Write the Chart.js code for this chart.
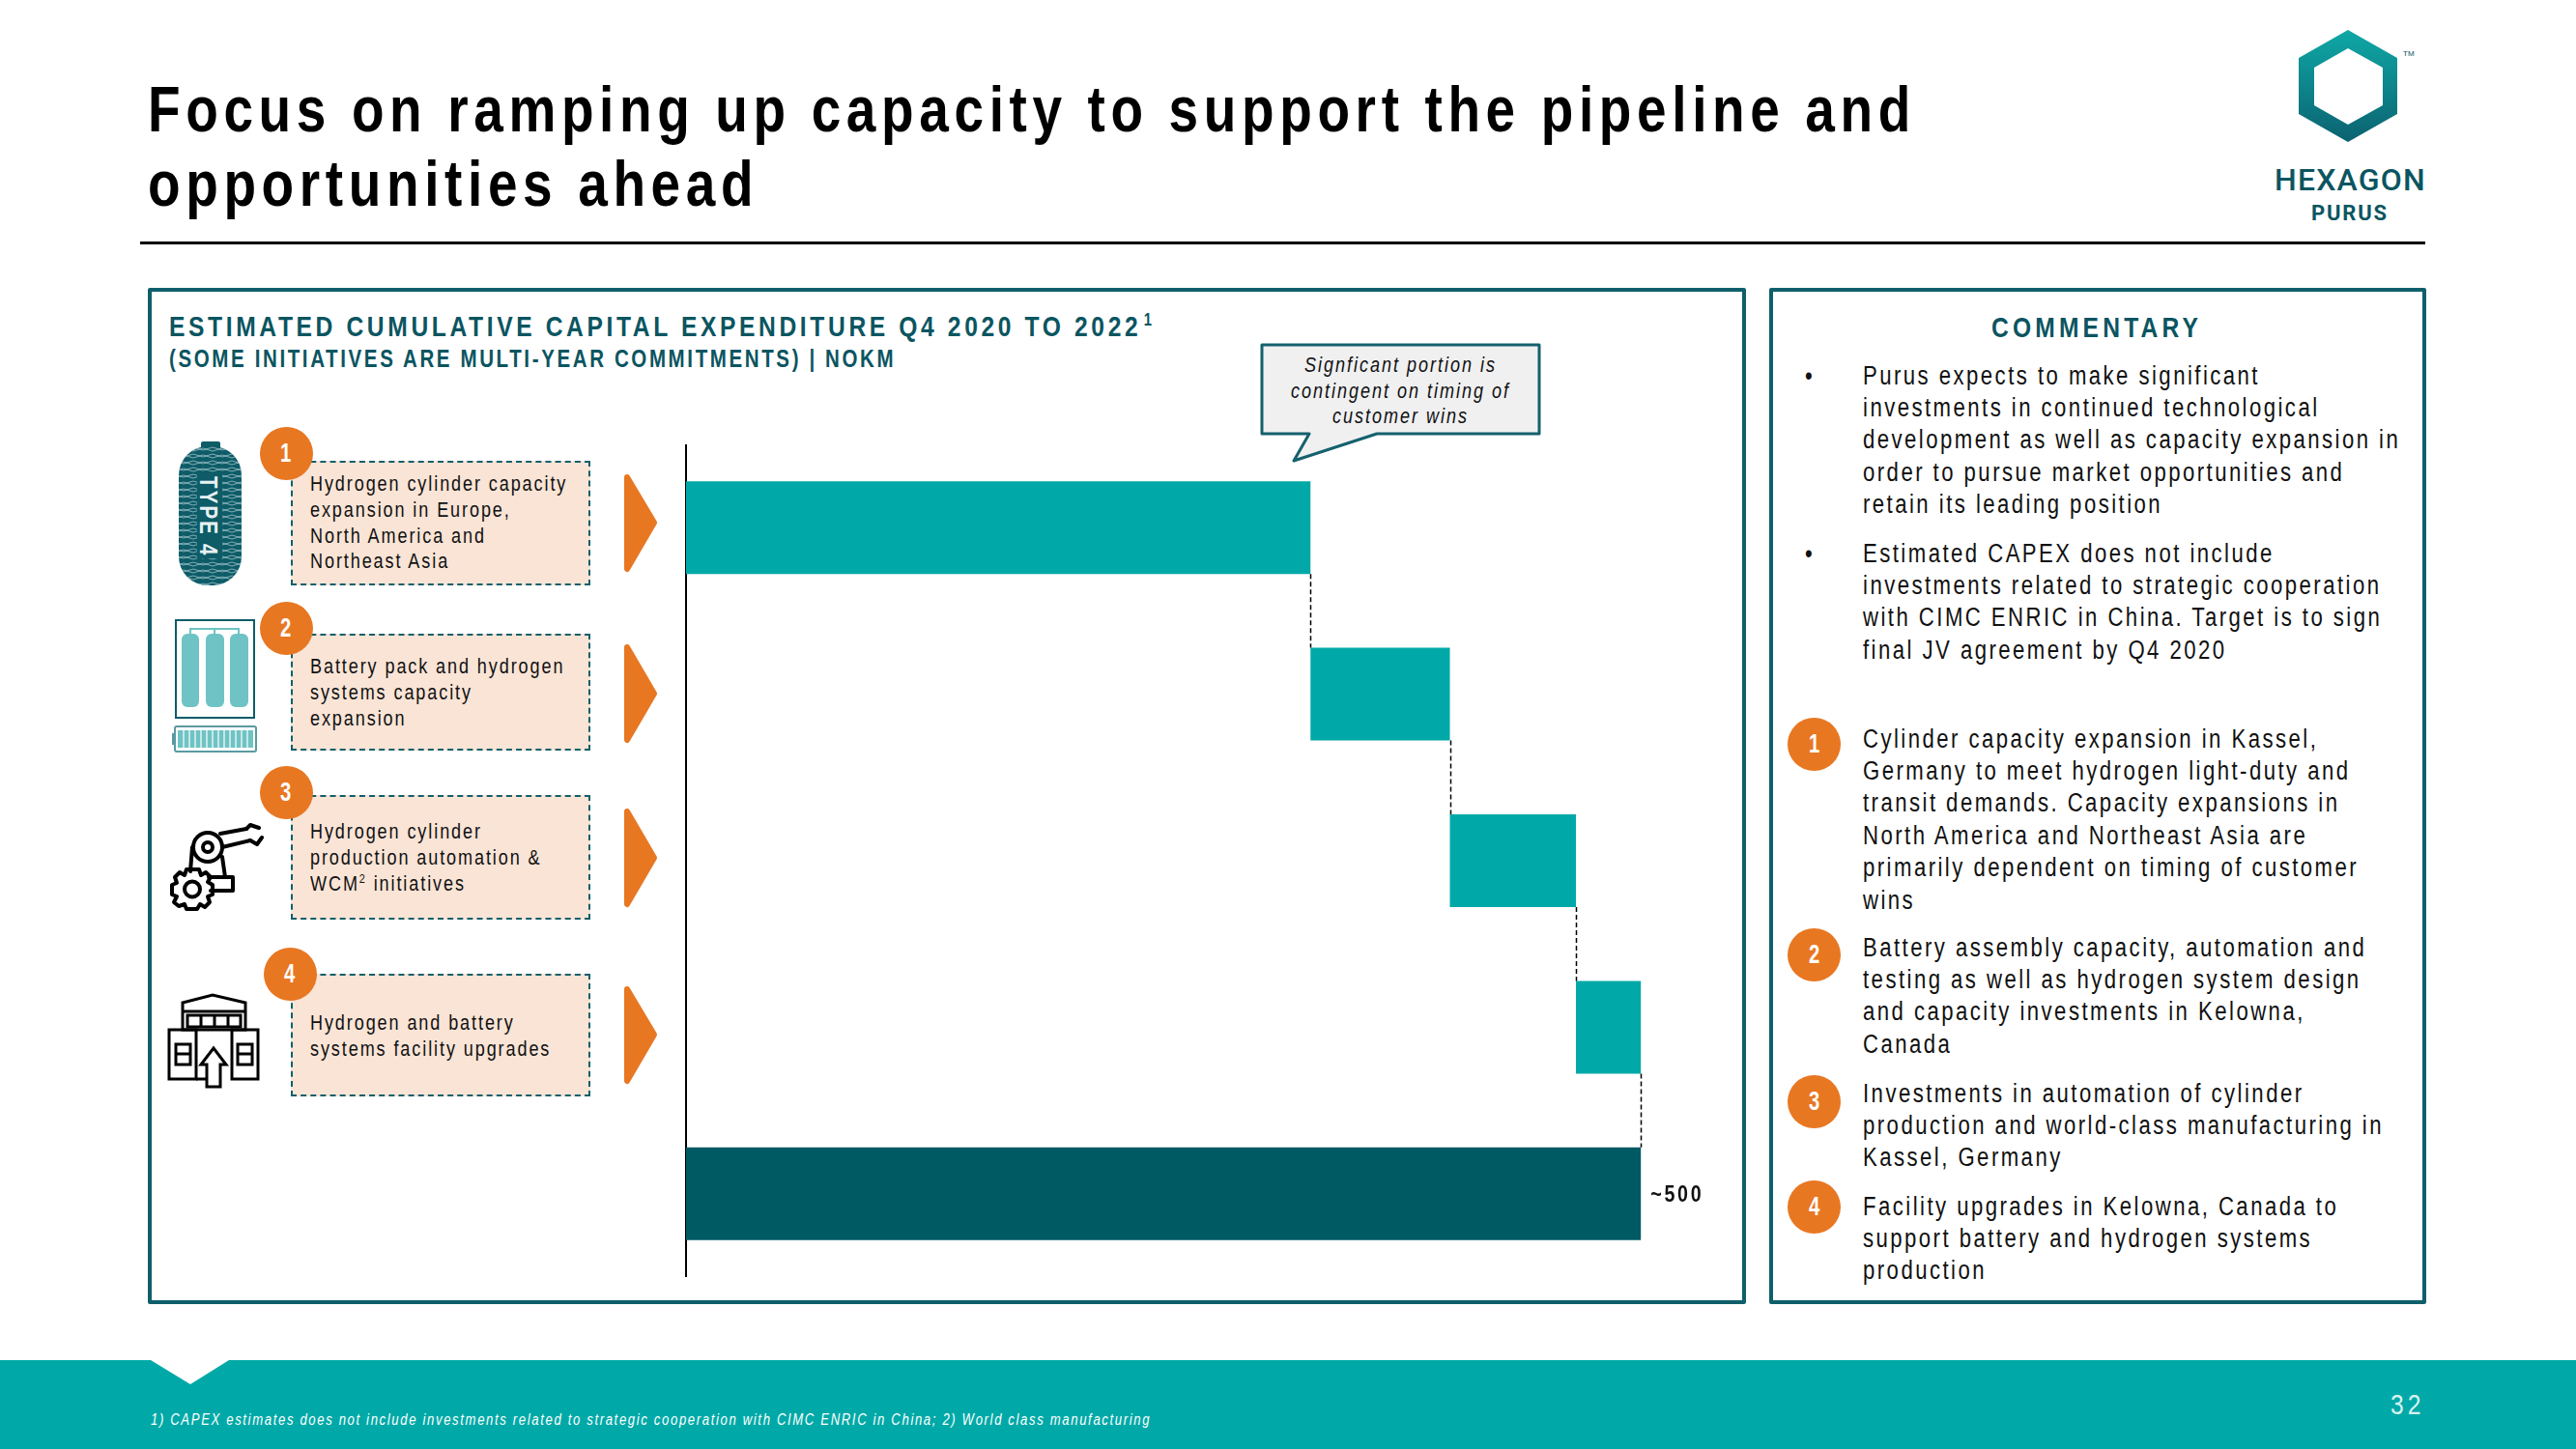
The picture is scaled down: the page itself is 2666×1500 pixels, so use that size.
<!DOCTYPE html>
<html>
<head>
<meta charset="utf-8">
<title>Capex</title>
<script src="https://cdn.jsdelivr.net/npm/chart.js@4"></script>
<style>
  html, body { margin: 0; padding: 0; background: #fff; }
  #page { position: relative; width: 2666px; height: 1500px; overflow: hidden; font-family: "Liberation Sans", sans-serif; }
  .abs { position: absolute; box-sizing: border-box; }
  /* no narrow font installed, so the regular one is squeezed */
  .t { position: absolute; white-space: nowrap; line-height: 1; color: #111; transform: scaleX(0.82); transform-origin: left top; }
  .t sup { line-height: 0; font-size: 0.6em; }
  .title { font-size: 67px; font-weight: 700; letter-spacing: 6.88px; color: #000; }
  .head { font-size: 30px; font-weight: 700; letter-spacing: 4.43px; color: #0b5561; }
  .comhead { font-size: 30px; font-weight: 700; letter-spacing: 5.1px; color: #0b5561; }
  .sub { font-size: 25px; font-weight: 700; letter-spacing: 3.2px; color: #0b5561; }
  .box-t { font-size: 22px; letter-spacing: 2.33px; }
  .com { font-size: 27px; letter-spacing: 3px; }
  .call { font-size: 22px; font-style: italic; letter-spacing: 2.4px; text-align: center; width: 287px; transform-origin: center top; }
  .foot { font-size: 16px; font-style: italic; letter-spacing: 2px; color: #fff; }
  .pg { font-size: 30px; letter-spacing: 5px; color: #d9f2f1; }
  .panel { border: 4px solid #0f5f6b; border-radius: 2px; }
  .box { background: #f9e4d6; border: 2px dashed #0f5f6b; }
  .dot { position: absolute; border-radius: 50%; background: #e87722; color: #fff; font-weight: 700; text-align: center; }
  .dot span { display: inline-block; transform: scaleX(0.75); }
  svg { position: absolute; left: 0; top: 0; }
  canvas { position: absolute; left: 700px; top: 460px; }
</style>
</head>
<body>
<div id="page">
  <div class="abs" style="left:145px;top:250px;width:2365px;height:3px;background:#000"></div>
  <div class="abs panel" style="left:153px;top:298px;width:1654px;height:1052px"></div>
  <div class="abs panel" style="left:1831px;top:298px;width:680px;height:1052px"></div>
  <div class="abs" style="left:0;top:1408px;width:2666px;height:92px;background:#00a9a7"></div>

  <svg width="2666" height="1500" viewBox="0 0 2666 1500">
    <defs>
      <linearGradient id="hexGrad" x1="0" y1="0" x2="0" y2="1">
        <stop offset="0" stop-color="#0fa8a6"/>
        <stop offset="1" stop-color="#0b6270"/>
      </linearGradient>
      <pattern id="wrap" width="20" height="7" patternUnits="userSpaceOnUse">
        <path d="M0 1 L10 4 L20 1 M0 5 L10 2 L20 5" fill="none" stroke="#cfe3e5" stroke-width="0.6"/>
      </pattern>
    </defs>

    <!-- logo -->
    <path fill="url(#hexGrad)" fill-rule="evenodd" d="M2430 31 L2481 60 L2481 118 L2430 147 L2379 118 L2379 60 Z M2430 50 L2395 70 L2395 109 L2430 129 L2466 109 L2466 70 Z"/>
    <text x="2487" y="58" font-family="Liberation Sans" font-size="8" fill="#0b5561">TM</text>
    <text x="2354" y="197" font-family="Roboto" font-weight="500" font-size="32" letter-spacing="1.2" fill="#0b5561">HEXAGON</text>
    <text x="2392" y="228" font-family="Roboto" font-weight="700" font-size="22" letter-spacing="1.8" fill="#0b5561">PURUS</text>

    <!-- callout -->
    <path d="M1306 357 H1593 V449 H1425 L1339 477 L1355 449 H1306 Z" fill="#f0f0f1" stroke="#15616d" stroke-width="3" stroke-linejoin="round"/>

    <!-- footer notch -->
    <path d="M156 1408 H237 L197 1433 Z" fill="#fff"/>

    <!-- arrows -->
    <g fill="#e87722" stroke="#e87722" stroke-width="6" stroke-linejoin="round">
      <path d="M649 494 L677 541 L649 589 Z"/>
      <path d="M649 670 L677 718 L649 766 Z"/>
      <path d="M649 840 L677 888 L649 936 Z"/>
      <path d="M649 1024 L677 1071 L649 1119 Z"/>
    </g>

    <!-- tank -->
    <rect x="208" y="457" width="20" height="10" rx="2" fill="#0d5c68"/>
    <rect x="185" y="462" width="65" height="144" rx="30" fill="#0d5c68"/>
    <rect x="185" y="462" width="65" height="144" rx="30" fill="url(#wrap)"/>
    <rect x="204" y="490" width="26" height="88" fill="#0d5c68"/>
    <text transform="translate(207 493) rotate(90) scale(0.82 1)" font-family="Liberation Sans" font-weight="700" font-size="25" letter-spacing="2.6" fill="#e8f1f2">TYPE 4</text>

    <!-- battery pack icon -->
    <rect x="182" y="642" width="81" height="101" fill="#fff" stroke="#0d5c68" stroke-width="2"/>
    <path d="M197 656 V651 H247 V656 M222 651 V656" fill="none" stroke="#6fc3c4" stroke-width="2"/>
    <g fill="#6fc3c4">
      <rect x="188" y="656" width="18" height="76" rx="6"/>
      <rect x="213" y="656" width="19" height="76" rx="6"/>
      <rect x="238" y="656" width="19" height="76" rx="6"/>
    </g>
    <rect x="181" y="752" width="84" height="26" rx="2" fill="#fff" stroke="#5a9aa2" stroke-width="2"/>
    <rect x="178" y="759" width="3" height="12" fill="#5a9aa2"/>
    <rect x="184" y="756" width="78" height="18" fill="#6fc3c4"/>
    <path d="M190 756 V774 M196 756 V774 M202 756 V774 M208 756 V774 M214 756 V774 M220 756 V774 M226 756 V774 M232 756 V774 M238 756 V774 M244 756 V774 M250 756 V774 M256 756 V774" stroke="#fff" stroke-width="1.2"/>

    <!-- robot arm icon -->
    <g fill="none" stroke="#000" stroke-width="4" stroke-linejoin="round" stroke-linecap="round">
      <circle cx="215" cy="877" r="15"/>
      <circle cx="215" cy="877" r="5"/>
      <path d="M199 877 L197 902 M230 887 L233 908 M216 908 H241 V922 H218"/>
      <path d="M228 863 L255 858 M230 877 L259 870"/>
      <path d="M255 858 L259 854 L268 857 M259 870 L266 874 L271 867"/>
      <path d="M200 900 L206 900 L208 906 L213 903 L218 908 L215 913 L220 916 L220 926 L215 928 L217 934 L212 939 L207 936 L204 941 L193 941 L191 936 L185 938 L180 934 L183 928 L178 926 L178 916 L183 914 L181 908 L186 903 L191 906 L193 900 Z"/>
      <circle cx="199" cy="920.5" r="8"/>
    </g>

    <!-- building icon -->
    <g fill="none" stroke="#000" stroke-width="3" stroke-linejoin="miter">
      <path d="M189 1038 L220 1030 L254 1038 V1066 H189 Z M189 1047 H254"/>
      <path d="M194 1051 H249 V1063 H194 Z M208 1051 V1063 M222 1051 V1063 M236 1051 V1063"/>
      <path d="M175 1066 H203 V1117 H175 Z M240 1066 H267 V1117 H240 Z"/>
      <path d="M203 1117 H214 V1125 H228 V1102 H234 L221 1085 L208 1102 H214 V1125"/>
      <path d="M182 1081 H197 V1102 H182 Z M182 1091 H197 M246 1081 H261 V1102 H246 Z M246 1091 H261"/>
    </g>
  </svg>

  <canvas id="capexChart" width="1097" height="862"></canvas>
</div>

<script>
// chart data, NOK million
const categories = ['Hydrogen cylinder capacity', 'Battery and hydrogen systems', 'Production automation', 'Facility upgrades', 'Total'];
const barStart = [0, 327, 400, 466, 0];
const barEnd = [327, 400, 466, 500, 500];
const barColors = ['#00a9a7', '#00a9a7', '#00a9a7', '#00a9a7', '#005a64'];
const totalLabel = '~500';

const titleLines = ['Focus on ramping up capacity to support the pipeline and', 'opportunities ahead'];
const chartHeading = 'ESTIMATED CUMULATIVE CAPITAL EXPENDITURE Q4 2020 TO 2022';
const chartSubheading = '(SOME INITIATIVES ARE MULTI-YEAR COMMITMENTS) | NOKM';
const calloutLines = ['Signficant portion is', 'contingent on timing of', 'customer wins'];
const footnote = '1) CAPEX estimates does not include investments related to strategic cooperation with CIMC ENRIC in China; 2) World class manufacturing';
const pageNumber = '32';

const initiativeLines = [
  ['Hydrogen cylinder capacity', 'expansion in Europe,', 'North America and', 'Northeast Asia'],
  ['Battery pack and hydrogen', 'systems capacity', 'expansion'],
  ['Hydrogen cylinder', 'production automation &amp;', 'WCM<sup>2</sup> initiatives'],
  ['Hydrogen and battery', 'systems facility upgrades']
];
const bulletLines = [
  ['Purus expects to make significant', 'investments in continued technological', 'development as well as capacity expansion in', 'order to pursue market opportunities and', 'retain its leading position'],
  ['Estimated CAPEX does not include', 'investments related to strategic cooperation', 'with CIMC ENRIC in China. Target is to sign', 'final JV agreement by Q4 2020']
];
const commentLines = [
  ['Cylinder capacity expansion in Kassel,', 'Germany to meet hydrogen light-duty and', 'transit demands. Capacity expansions in', 'North America and Northeast Asia are', 'primarily dependent on timing of customer', 'wins'],
  ['Battery assembly capacity, automation and', 'testing as well as hydrogen system design', 'and capacity investments in Kelowna,', 'Canada'],
  ['Investments in automation of cylinder', 'production and world-class manufacturing in', 'Kassel, Germany'],
  ['Facility upgrades in Kelowna, Canada to', 'support battery and hydrogen systems', 'production']
];

const page = document.getElementById('page');

// text helper: y is the baseline, Liberation sits at .8465em with line-height 1
function addText(str, x, y, size, cls) {
  const el = document.createElement('div');
  el.className = 't ' + cls;
  el.style.left = x + 'px';
  el.style.top = (y - size * 0.8465) + 'px';
  el.innerHTML = str;
  page.appendChild(el);
  return el;
}

function addLines(lines, x, y, pitch, size, cls) {
  lines.forEach((line, i) => addText(line, x, y + i * pitch, size, cls));
}

function addDot(label, cx, cy, r, size) {
  const el = document.createElement('div');
  el.className = 'dot';
  el.style.cssText = `left:${cx - r}px;top:${cy - r}px;width:${2 * r}px;height:${2 * r}px;line-height:${2 * r}px;font-size:${size}px`;
  el.innerHTML = '<span>' + label + '</span>';
  page.appendChild(el);
}

function addBox(x, top, w, h) {
  const el = document.createElement('div');
  el.className = 'abs box';
  el.style.cssText = `left:${x}px;top:${top}px;width:${w}px;height:${h}px`;
  page.appendChild(el);
}

addLines(titleLines, 153, 136, 77, 67, 'title');
addText(chartHeading + '<sup style="margin-left:3px">1</sup>', 175, 348, 30, 'head');
addText(chartSubheading, 175, 380, 25, 'sub');
addLines(calloutLines, 1306, 386, 26.5, 22, 'call');
addText(footnote, 156, 1476, 16, 'foot');
addText(pageNumber, 2474, 1464, 30, 'pg');

// left boxes with their number badges
const boxTops = [477, 656, 823, 1008];
const boxHeights = [129, 121, 129, 127];
const boxBaselines = [509, 698, 869, 1067];
const badgeX = [296, 296, 296, 300];
const badgeY = [469, 650, 820, 1008];
initiativeLines.forEach((lines, i) => {
  addBox(301, boxTops[i], 310, boxHeights[i]);
  addDot(String(i + 1), badgeX[i], badgeY[i], 27.5, 27);
  addLines(lines, 321, boxBaselines[i], 26.6, 22, 'box-t');
});

// right column
addText('COMMENTARY', 2061, 349, 30, 'comhead');
const bulletBaselines = [398.5, 582.5];
bulletLines.forEach((lines, i) => {
  addText('&bull;', 1868, bulletBaselines[i], 27, 'com');
  addLines(lines, 1928, bulletBaselines[i], 33.4, 27, 'com');
});
const commentBaselines = [774.5, 990.5, 1141.5, 1258.5];
const commentDots = [770, 988, 1140, 1249];
commentLines.forEach((lines, i) => {
  addDot(String(i + 1), 1877.5, commentDots[i], 27.5, 27);
  addLines(lines, 1928, commentBaselines[i], 33.4, 27, 'com');
});

// dashed connectors between the steps and the label of the total bar
const waterfallExtras = {
  id: 'waterfallExtras',
  afterDatasetsDraw(chart) {
    const ctx = chart.ctx;
    const bars = chart.getDatasetMeta(0).data;
    const xScale = chart.scales.x;
    ctx.save();
    ctx.strokeStyle = '#000';
    ctx.lineWidth = 1.5;
    ctx.setLineDash([5, 3]);
    for (let i = 0; i < bars.length - 1; i++) {
      const x = Math.round(xScale.getPixelForValue(barEnd[i])) + 0.5;
      ctx.beginPath();
      ctx.moveTo(x, bars[i].y + bars[i].height / 2);
      ctx.lineTo(x, bars[i + 1].y - bars[i + 1].height / 2);
      ctx.stroke();
    }
    ctx.setLineDash([]);
    const last = bars[bars.length - 1];
    ctx.fillStyle = '#111';
    ctx.font = 'bold 24px "Liberation Sans"';
    ctx.letterSpacing = '3.3px';
    ctx.textBaseline = 'middle';
    ctx.translate(xScale.getPixelForValue(barEnd[barEnd.length - 1]) + 10, last.y + 1.5);
    ctx.scale(0.82, 1);
    ctx.fillText(totalLabel, 0, 0);
    ctx.restore();
  }
};

new Chart(document.getElementById('capexChart'), {
  type: 'bar',
  data: {
    labels: categories,
    datasets: [{
      data: barStart.map((s, i) => [s, barEnd[i]]),
      backgroundColor: barColors,
      barPercentage: 0.557,
      categoryPercentage: 1
    }]
  },
  options: {
    indexAxis: 'y',
    responsive: false,
    animation: false,
    layout: { padding: { left: 10 } },
    plugins: { legend: { display: false }, tooltip: { enabled: false } },
    scales: {
      x: { display: false, min: 0, max: 550 },
      y: {
        ticks: { display: false },
        grid: { display: false, drawTicks: false },
        border: { color: '#000', width: 2 }
      }
    }
  },
  plugins: [waterfallExtras]
});
</script>
</body>
</html>
